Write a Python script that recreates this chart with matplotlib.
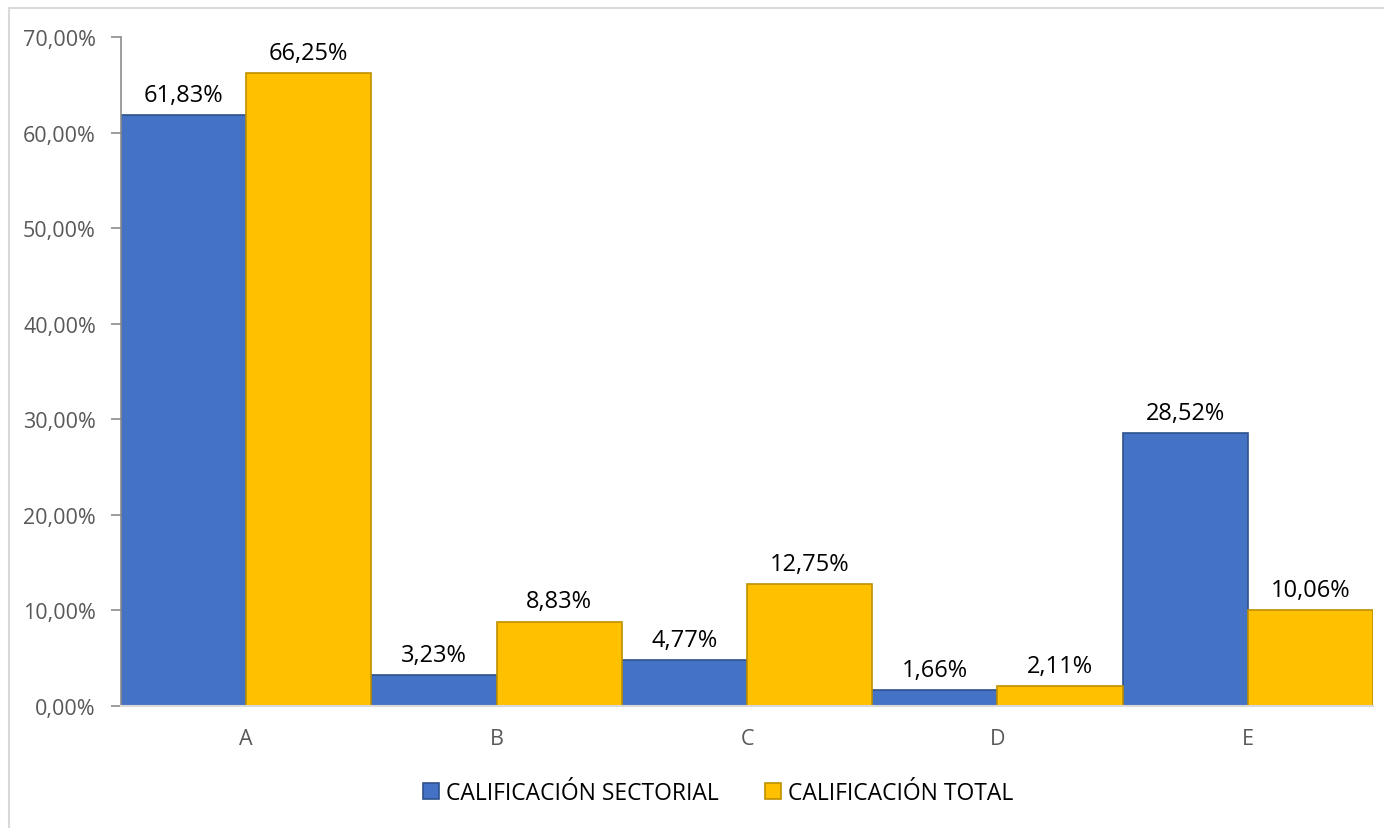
import matplotlib.pyplot as plt
import matplotlib.patches as mpatches
import numpy as np

# datos
categorias = ['A', 'B', 'C', 'D', 'E']
sectorial = [61.83, 3.23, 4.77, 1.66, 28.52]
total = [66.25, 8.83, 12.75, 2.11, 10.06]
etiquetas_y = [0, 10, 20, 30, 40, 50, 60, 70]

plt.rcParams['font.family'] = ['Open Sans', 'DejaVu Sans']


def fmt(v):
    return f'{v:.2f}%'.replace('.', ',')


fig = plt.figure(figsize=(13.84, 8.29), dpi=100)
ax = fig.add_axes([121 / 1384, 1 - 707 / 829, (1373 - 121) / 1384, (707 - 38) / 829])

# marco exterior
fig.patches.append(mpatches.Rectangle((9 / 1384, -0.1), 1.2, 1 - 9 / 829 + 0.1,
                                      transform=fig.transFigure, fill=False,
                                      edgecolor='#d9d9d9', linewidth=1.5))

x = np.arange(len(categorias))
w = 0.5
b1 = ax.bar(x - w / 2, sectorial, w, color='#4472c4', edgecolor='#2f528f',
            linewidth=1.2, label='CALIFICACIÓN SECTORIAL')
b2 = ax.bar(x + w / 2, total, w, color='#ffc000', edgecolor='#bf9000',
            linewidth=1.2, label='CALIFICACIÓN TOTAL')

for barras, vals in [(b1, sectorial), (b2, total)]:
    for r, v in zip(barras, vals):
        ax.annotate(fmt(v), (r.get_x() + r.get_width() / 2, v), xytext=(0, 6),
                    textcoords='offset points', ha='center', va='bottom',
                    fontsize=17, color='black')

ax.set_xlim(-0.5, 4.5)
ax.set_ylim(0, 70)
ax.set_yticks(etiquetas_y)
ax.set_yticklabels([fmt(v) for v in etiquetas_y])
ax.set_xticks(x)
ax.set_xticklabels(categorias)
ax.tick_params(axis='y', colors='#595959', labelsize=15.5, length=7, width=1.2, direction='out', pad=11)
ax.tick_params(axis='x', colors='#595959', labelsize=15.5, length=0, pad=16)
ax.tick_params(axis='y', color='#8c8c8c')

for s in ['top', 'right']:
    ax.spines[s].set_visible(False)
ax.spines['left'].set_color('#8c8c8c')
ax.spines['left'].set_linewidth(1.2)
ax.spines['bottom'].set_color('#d9d9d9')
ax.spines['bottom'].set_linewidth(1.5)

ax.legend(loc='center', bbox_to_anchor=(0.477, -0.13), ncol=2, frameon=False,
          fontsize=16.5, handlelength=0.7, handleheight=0.7, handletextpad=0.3,
          columnspacing=2.0)

fig.savefig('out.png', dpi=100)
